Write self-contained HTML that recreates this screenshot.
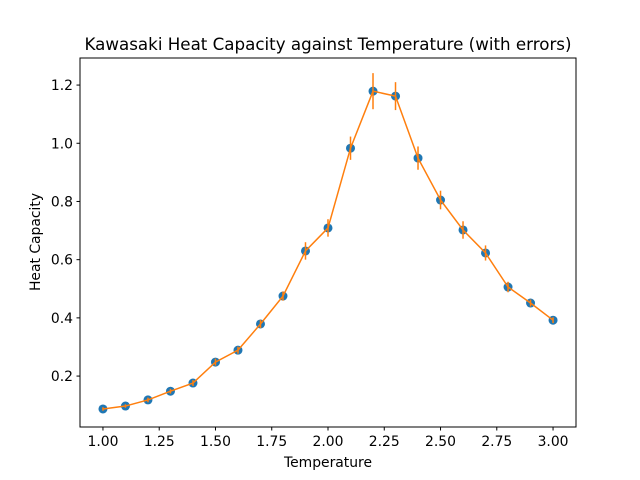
<!DOCTYPE html>
<html><head><meta charset="utf-8"><style>
html,body{margin:0;padding:0;background:#fff;}
svg{display:block;font-family:"DejaVu Sans","Liberation Sans",sans-serif;}
</style></head><body>
<svg id="chart" width="640" height="480" viewBox="0 0 640 480" xmlns="http://www.w3.org/2000/svg">
<rect x="0" y="0" width="640" height="480" fill="#fff"/>
<text x="328" y="50" text-anchor="middle" font-size="16.7">Kawasaki Heat Capacity against Temperature (with errors)</text>
<text x="328" y="467" text-anchor="middle" font-size="13.9">Temperature</text>
<text transform="translate(40,242) rotate(-90)" text-anchor="middle" font-size="13.9">Heat Capacity</text>
<g id="plot"></g>
<rect x="80" y="58" width="496" height="369" fill="none" stroke="#000" stroke-width="1"/>
</svg>
<script>
const temps=[1.0,1.1,1.2,1.3,1.4,1.5,1.6,1.7,1.8,1.9,2.0,2.1,2.2,2.3,2.4,2.5,2.6,2.7,2.8,2.9,3.0];
const heatCap=[0.087,0.097,0.118,0.148,0.176,0.248,0.289,0.379,0.475,0.63,0.709,0.983,1.179,1.162,0.949,0.805,0.702,0.623,0.506,0.451,0.392];
const errors=[0.006,0.006,0.008,0.008,0.01,0.012,0.012,0.014,0.016,0.03,0.03,0.04,0.062,0.048,0.04,0.032,0.03,0.026,0.018,0.012,0.01];
const xTicks=[1.00,1.25,1.50,1.75,2.00,2.25,2.50,2.75,3.00];
const yTicks=[0.2,0.4,0.6,0.8,1.0,1.2];
const X0=80,X1=576,Y0=427,Y1=58,xmin=0.898,xmax=3.102,ymin=0.025,ymax=1.293;
const sx=v=>X0+(v-xmin)/(xmax-xmin)*(X1-X0);
const sy=v=>Y0-(v-ymin)/(ymax-ymin)*(Y0-Y1);
const NS='http://www.w3.org/2000/svg';
const g=document.getElementById('plot');
function mk(t,a){const e=document.createElementNS(NS,t);for(const k in a)e.setAttribute(k,a[k]);g.appendChild(e);return e;}
xTicks.forEach(t=>{
 const l=mk('line',{x1:sx(t),x2:sx(t),y1:427,y2:430.5,stroke:'#000'});
 
 
 const tx=mk('text',{x:sx(t),y:446,'text-anchor':'middle','font-size':'13.9'});
 tx.textContent=t.toFixed(2);
 
 
});
yTicks.forEach(t=>{
 const l=mk('line',{x1:76.5,x2:80,y1:sy(t),y2:sy(t),stroke:'#000'});
 
 
 const tx=mk('text',{x:73,y:sy(t)+5,'text-anchor':'end','font-size':'13.9'});
 tx.textContent=t.toFixed(1);
 
 
});
temps.forEach((t,i)=>{
 const c=mk('circle',{cx:sx(t),cy:sy(heatCap[i]),r:4.5,fill:'#1f77b4'});
 
 
});
const pts=temps.map((t,i)=>sx(t)+','+sy(heatCap[i])).join(' ');
const pl=mk('polyline',{points:pts,fill:'none',stroke:'#ff7f0e','stroke-width':1.5});


temps.forEach((t,i)=>{
 const e=mk('line',{x1:sx(t),x2:sx(t),y1:sy(heatCap[i]-errors[i]),y2:sy(heatCap[i]+errors[i]),stroke:'#ff7f0e','stroke-width':1.5});
 
 
});
</script>
</body></html>
